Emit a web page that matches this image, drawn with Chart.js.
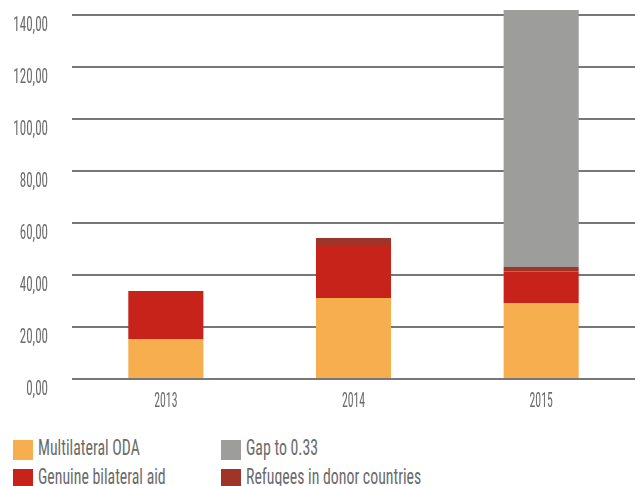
<!DOCTYPE html>
<html>
<head>
<meta charset="utf-8">
<script src="https://cdn.jsdelivr.net/npm/chart.js@4"></script>
<style>
  body { margin: 0; background: #fff; width: 635px; height: 486px; overflow: hidden; position: relative; }
  #wrap { position: absolute; left: 0; top: 0; width: 635px; height: 415px; }
  #legend { position: absolute; left: 13px; top: 440px; font-family: "Roboto Condensed", sans-serif; font-size: 22px; color: #6b6b6b; }
  .item { position: absolute; height: 20px; white-space: nowrap; }
  .box { position: absolute; left: 0; top: 0; width: 20px; height: 20px; }
  .txt { position: absolute; left: 25px; top: -5px; line-height: 26px; transform: scaleX(0.72); transform-origin: left center; }
</style>
</head>
<body>
<div id="wrap"><canvas id="oda"></canvas></div>
<div id="legend"></div>
<script>
const years = ['2013', '2014', '2015'];
const multilateral = [15.4, 31.2, 29.2];
const bilateral = [18.4, 20.0, 12.1];
const refugees = [0, 3.0, 1.8];
const gap = [0, 0, 98.8];

const colors = {
    multi: '#f6ae4f',
    bilat: '#c8231b',
    refug: '#9e3526',
    gap: '#9d9d9b'
};
const textColor = '#6b6b6b';

// the original uses a very narrow face, so squeeze Roboto Condensed sideways
function narrowText(ctx, text, x, y, align, sx) {
    ctx.save();
    ctx.font = '21px "Roboto Condensed", sans-serif';
    ctx.fillStyle = textColor;
    ctx.textAlign = align;
    ctx.textBaseline = 'alphabetic';
    ctx.translate(x, y);
    ctx.scale(sx, 1);
    ctx.fillText(text, 0, 0);
    ctx.restore();
}

const narrowLabels = {
    id: 'narrowLabels',
    afterDraw(chart) {
        const ctx = chart.ctx;
        const ys = chart.scales.y;
        ys.ticks.forEach((t, i) => {
            const py = ys.getPixelForTick(i);
            narrowText(ctx, t.value.toFixed(2).replace('.', ','), 48, py + 16, 'right', 0.62);
        });
        const xs = chart.scales.x;
        years.forEach((yr, i) => {
            narrowText(ctx, yr, xs.getPixelForTick(i), 407, 'center', 0.56);
        });
    }
};

const ctx = document.getElementById('oda').getContext('2d');
const odaChart = new Chart(ctx, {
    type: 'bar',
    data: {
        labels: years,
        datasets: [
            { label: 'Multilateral ODA', data: multilateral, backgroundColor: colors.multi },
            { label: 'Genuine bilateral aid', data: bilateral, backgroundColor: colors.bilat },
            { label: 'Refugees in donor countries', data: refugees, backgroundColor: colors.refug },
            { label: 'Gap to 0.33', data: gap, backgroundColor: colors.gap }
        ]
    },
    options: {
        responsive: true,
        maintainAspectRatio: false,
        animation: false,
        datasets: {
            bar: { barPercentage: 0.4, categoryPercentage: 1, clip: false, borderWidth: 0 }
        },
        layout: { padding: { top: 15, right: 0, bottom: 0, left: 0 } },
        plugins: {
            legend: { display: false },
            tooltip: { enabled: false }
        },
        scales: {
            x: {
                stacked: true,
                grid: { display: false },
                border: { display: false },
                ticks: { display: false },
                afterFit: s => { s.height = 36; s.paddingLeft = 0; s.paddingRight = 0; }
            },
            y: {
                stacked: true,
                min: 0,
                max: 140,
                border: { display: false },
                grid: { color: '#777777', lineWidth: 2, drawTicks: false },
                ticks: { display: false, stepSize: 20 },
                afterFit: s => { s.width = 72; s.paddingTop = 0; s.paddingBottom = 0; }
            }
        }
    },
    plugins: [narrowLabels]
});

// legend laid out 2x2 like the original
const legendItems = [
    ['Multilateral ODA', colors.multi, 0, 0],
    ['Gap to 0.33', colors.gap, 208, 0],
    ['Genuine bilateral aid', colors.bilat, 0, 29],
    ['Refugees in donor countries', colors.refug, 208, 29]
];
const legendEl = document.getElementById('legend');
legendItems.forEach(([name, col, left, top]) => {
    const item = document.createElement('div');
    item.className = 'item';
    item.style.left = left + 'px';
    item.style.top = top + 'px';
    item.innerHTML = '<span class="box" style="background:' + col + '"></span><span class="txt">' + name + '</span>';
    legendEl.appendChild(item);
});
</script>
</body>
</html>
